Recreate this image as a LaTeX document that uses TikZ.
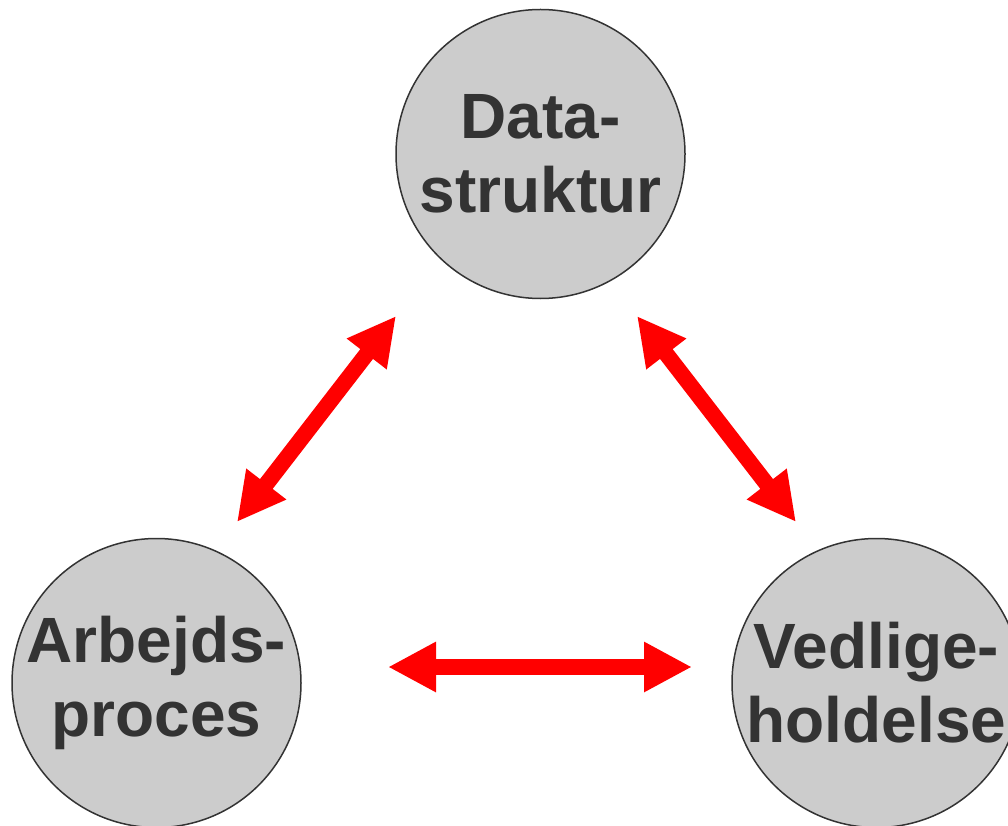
\documentclass[tikz,border=0pt]{standalone}
\usepackage{fontspec}
\setmainfont{Liberation Sans}
\usetikzlibrary{arrows.meta}
\definecolor{circfill}{HTML}{CCCCCC}
\definecolor{darktext}{HTML}{333333}
\definecolor{arrred}{HTML}{FF0000}
\tikzset{
  bubble/.style={circle, draw=darktext, line width=1.5pt, fill=circfill, minimum size=289pt, inner sep=0pt},
  bubbletext/.style={align=center, text=darktext, font=\fontsize{64pt}{74pt}\selectfont\bfseries, inner sep=0pt},
  biarrow/.style={draw=arrred, line width=16pt, {Triangle[length=48pt,width=47pt]}-{Triangle[length=48pt,width=47pt]}}
}
\begin{document}
\begin{tikzpicture}[x=1pt,y=-1pt]
\useasboundingbox (0,0) rectangle (1008,826);
\node[bubble] (top) at (540.5,154) {};
\node[bubble] (left) at (156.5,683) {};
\node[bubble] (right) at (876.5,683) {};
\node[bubbletext] (toptext) at (top.center) {Data-\\struktur};
\node[bubbletext] (lefttext) at (left.center) {Arbejds-\\proces};
\node[bubbletext] (righttext) at (right.center) {Vedlige-\\holdelse};
\coordinate (a1) at (396,316);
\coordinate (a2) at (237,522);
\coordinate (b1) at (637,316);
\coordinate (b2) at (796,522);
\coordinate (c1) at (388,667);
\coordinate (c2) at (692,667);
\draw[biarrow] (a1) -- (a2);
\draw[biarrow] (b1) -- (b2);
\draw[biarrow] (c1) -- (c2);
\end{tikzpicture}
\end{document}
